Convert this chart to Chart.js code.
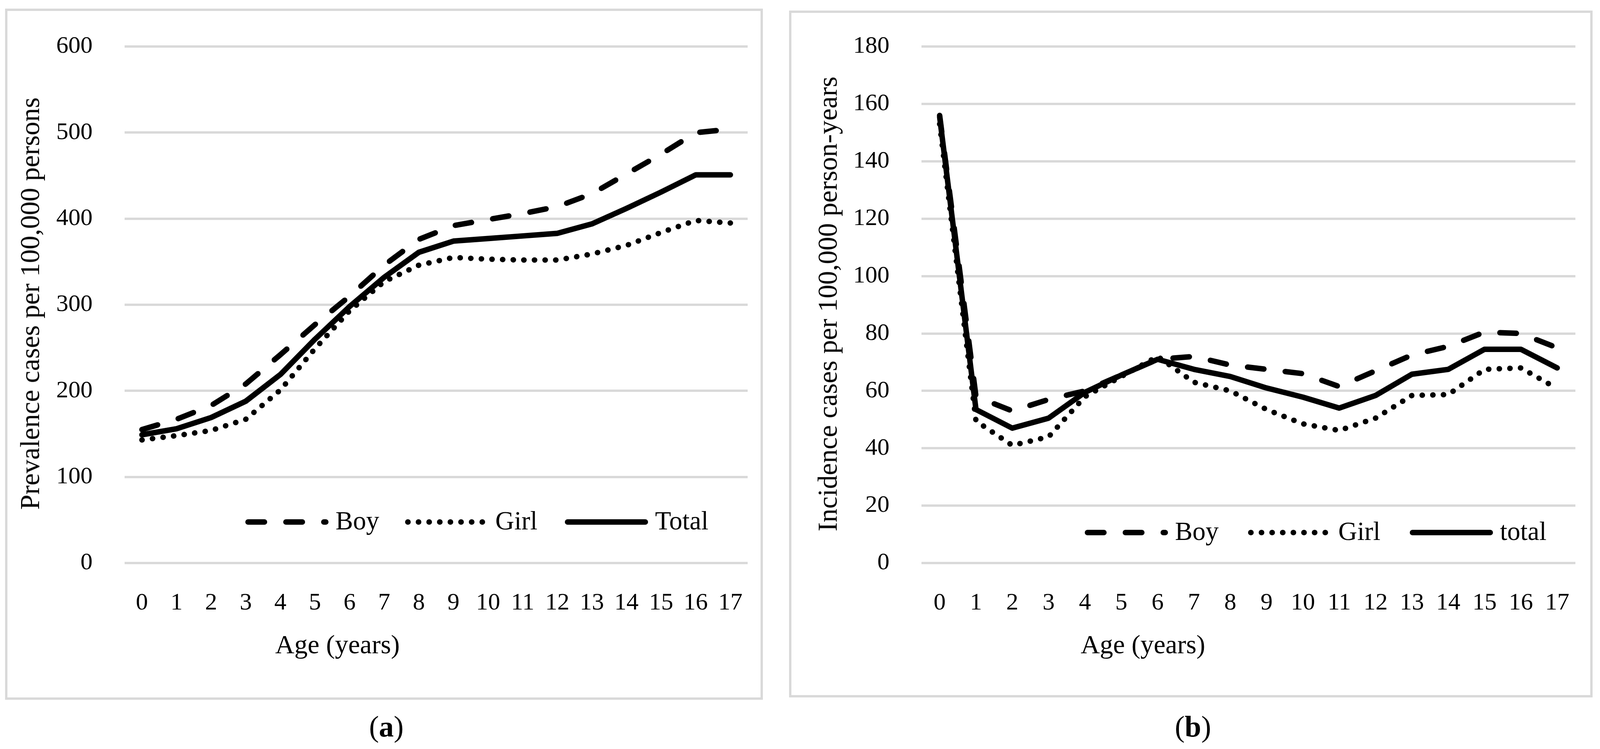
<!DOCTYPE html>
<html>
<head>
<meta charset="utf-8">
<script src="https://cdn.jsdelivr.net/npm/chart.js@4.4.0/dist/chart.umd.min.js"></script>
<style>
  html, body { margin: 0; padding: 0; background: #fff; }
  /* the window only gives a 4096px wide viewport, so the layout is fitted to that width */
  body { width: 4096px; height: 1917px; position: relative; overflow: hidden; font-family: 'Liberation Serif', serif; color: #000; }
  .box { position: absolute; box-sizing: border-box; border: 6px solid #d9d9d9; }
  canvas { position: absolute; top: 0; }
  .txt { position: absolute; line-height: 1; white-space: nowrap; }
  .ytitle { font-size: 70px; transform: translate(-50%, -50%) rotate(-90deg); }
  .xtitle { font-size: 68px; transform: translateX(-50%); }
  .cap { font-size: 76px; transform: translateX(-50%); }
</style>
</head>
<body>
<div class="box" style="left:13px; top:22px; width:1940px; height:1769px;"></div>
<div class="box" style="left:2020px; top:27px; width:2057px; height:1758px;"></div>

<canvas id="chartA" width="1989" height="1917" style="left:0;"></canvas>
<canvas id="chartB" width="2107" height="1917" style="left:1989px;"></canvas>

<div class="txt ytitle" style="left:77px; top:777px;">Prevalence cases per 100,000 persons</div>
<div class="txt ytitle" style="left:2119px; top:778px;">Incidence cases per 100,000 person-years</div>
<div class="txt xtitle" style="left:864px; top:1615px;">Age (years)</div>
<div class="txt xtitle" style="left:2926px; top:1615px;">Age (years)</div>
<div class="txt cap" style="left:989px; top:1821px;">(<b>a</b>)</div>
<div class="txt cap" style="left:3054px; top:1821px;">(<b>b</b>)</div>

<script>
// Age categories (x axis)
const ages = ['0', '1', '2', '3', '4', '5', '6', '7', '8', '9', '10', '11', '12', '13', '14', '15', '16', '17'];

// (a) prevalence per 100,000 persons
const namesA = ['Boy', 'Girl', 'Total'];
const prevBoy = [155, 167, 183, 208, 242, 277, 310, 346, 376, 392, 399, 406, 414, 429, 452, 475, 500, 504];
const prevGirl = [143, 148, 154, 167, 201, 249, 293, 327, 346, 355, 353, 352, 352, 359, 369, 384, 398, 395];
const prevTotal = [149, 156, 169, 188, 219, 260, 298, 332, 361, 374, 377, 380, 383, 394, 412, 431, 451, 451];
const ticksA = [0, 100, 200, 300, 400, 500, 600];

// (b) incidence per 100,000 person-years
const namesB = ['Boy', 'Girl', 'total'];
const incBoy = [156, 58, 53, 57, 60, 65.5, 71, 72, 69, 67.5, 66, 61.5, 67, 72.5, 75.5, 80.5, 80, 75];
const incGirl = [153, 49.5, 41, 44, 58, 65, 72, 63, 60, 53.5, 48.5, 46.2, 50.5, 58.4, 58.7, 67.5, 68, 60.8];
const incTotal = [155.5, 53.5, 47, 50.5, 59.5, 65.5, 71, 67.5, 65, 61, 57.8, 54, 58.4, 65.8, 67.5, 74.5, 74.5, 68];
const ticksB = [0, 20, 40, 60, 80, 100, 120, 140, 160, 180];

// Line styles: long dash, round dot, solid
const dashes = [[42, 55], [0.5, 26.7], []];

// Legend drawn inside the plot area, like the Excel original
const lineKey = {
  id: 'lineKey',
  afterDatasetsDraw(chart, args, opts) {
    const ctx = chart.ctx;
    ctx.save();
    chart.data.datasets.forEach((ds, i) => {
      const x0 = opts.starts[i];
      ctx.strokeStyle = ds.borderColor;
      ctx.lineWidth = ds.borderWidth;
      ctx.lineCap = 'round';
      ctx.setLineDash(ds.borderDash);
      ctx.beginPath();
      ctx.moveTo(x0 + 7, opts.y);
      ctx.lineTo(x0 + 206, opts.y);
      ctx.stroke();
      ctx.setLineDash([]);
      ctx.fillStyle = '#000';
      ctx.font = "67px 'Liberation Serif', serif";
      ctx.textBaseline = 'alphabetic';
      ctx.fillText(ds.label, x0 + 231, opts.y + 19);
    });
    ctx.restore();
  }
};

function buildChart(id, names, values, yTicks, lay) {
  return new Chart(document.getElementById(id), {
    type: 'line',
    data: {
      labels: ages,
      datasets: names.map((name, i) => ({
        label: name,
        data: values[i],
        borderColor: '#000',
        borderWidth: 14,
        borderDash: dashes[i],
        borderCapStyle: 'round',
        borderJoinStyle: 'round',
        pointRadius: 0,
        tension: 0,
        fill: false,
        order: 2 - i
      }))
    },
    options: {
      responsive: false,
      animation: false,
      devicePixelRatio: 1,
      layout: { padding: { left: 0, top: lay.top, right: lay.right, bottom: 0 } },
      plugins: {
        legend: { display: false },
        tooltip: { enabled: false },
        lineKey: { starts: lay.keyStarts, y: lay.keyY }
      },
      scales: {
        x: {
          offset: true,
          grid: { display: false },
          border: { display: false },
          ticks: {
            autoSkip: false,
            maxRotation: 0,
            padding: 58,
            color: '#000',
            font: { family: "'Liberation Serif', serif", size: 62 }
          },
          afterFit: s => { s.height = lay.xHeight; }
        },
        y: {
          min: yTicks[0],
          max: yTicks[yTicks.length - 1],
          grid: { color: '#d9d9d9', lineWidth: 6, drawTicks: false },
          border: { display: false },
          ticks: {
            stepSize: yTicks[1] - yTicks[0],
            padding: 82,
            color: '#000',
            font: { family: "'Liberation Serif', serif", size: 62 }
          },
          afterFit: s => { s.width = lay.yWidth; }
        }
      }
    },
    plugins: [lineKey]
  });
}

buildChart('chartA', namesA, [prevBoy, prevGirl, prevTotal], ticksA, {
  top: 112, right: 75, xHeight: 476, yWidth: 319,
  keyStarts: [628, 1037, 1446], keyY: 1336
});

buildChart('chartB', namesB, [incBoy, incGirl, incTotal], ticksB, {
  top: 119, right: 63, xHeight: 476, yWidth: 370,
  keyStarts: [788, 1206, 1620], keyY: 1363
});
</script>
</body>
</html>
